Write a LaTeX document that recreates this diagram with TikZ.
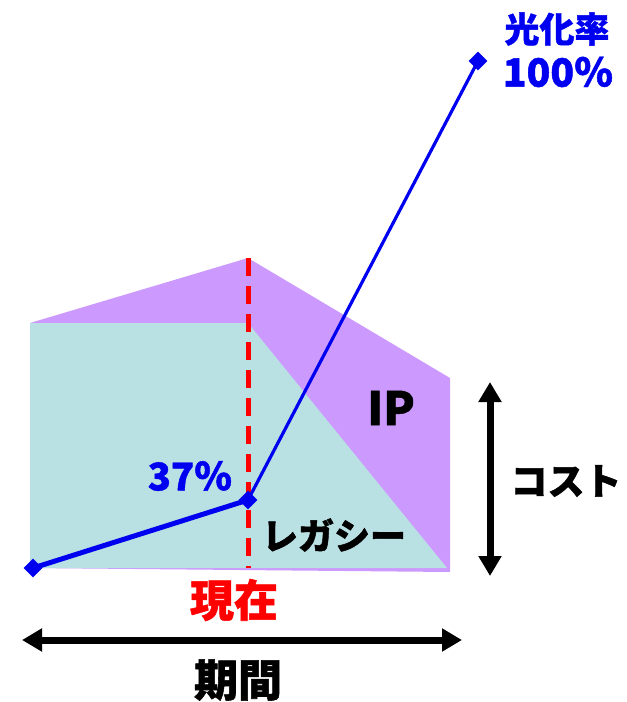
\documentclass[tikz,border=0pt]{standalone}
\usepackage{fontspec}
\newfontfamily\jp{Noto Sans CJK JP}[BoldFeatures={FakeBold=1.2}]
\usetikzlibrary{arrows.meta,shapes.geometric}
\definecolor{ipcol}{RGB}{204,153,255}
\definecolor{legcol}{RGB}{185,224,227}
\definecolor{lineblue}{RGB}{0,0,240}
\definecolor{nowred}{RGB}{255,0,0}
\tikzset{
  lbl/.style={font=\jp\bfseries, inner sep=0pt, anchor=center},
  marker/.style={diamond, fill=lineblue, draw=none, minimum size=19bp, inner sep=0pt},
  dbl/.style={line width=7bp, {Triangle[length=20bp,width=22bp]}-{Triangle[length=20bp,width=22bp]}},
}
\begin{document}
\begin{tikzpicture}[x=1bp,y=-1bp]
\useasboundingbox (0,0) rectangle (627,702);
% areas
\fill[ipcol] (30,323) -- (248,258) -- (450,378) -- (450,572) -- (30,568) -- cycle;
\fill[legcol] (30,323) -- (248,323) -- (447,568) -- (30,568) -- cycle;
% now line
\coordinate (nowtop) at (248,258);
\coordinate (nowbot) at (248,568);
\draw[nowred, line width=5bp, dash pattern=on 18bp off 10bp] (nowtop) -- (nowbot);
% markers
\node[marker] (p0) at (33,568) {};
\node[marker] (p1) at (248,500) {};
\node[marker] (p2) at (478,61) {};
\draw[lineblue, line width=5bp] (p0.center) -- (p1.center);
\draw[lineblue, line width=3.2bp] (p1.center) -- (p2.center);
% labels
\node[lbl, text=lineblue, font=\jp\bfseries\fontsize{35bp}{35bp}\selectfont] (t1) at (557,29) {光化率};
\node[lbl, text=lineblue, font=\jp\bfseries\fontsize{39bp}{39bp}\selectfont] (t2) at (558,72) {100％};
\node[lbl, text=lineblue, font=\jp\bfseries\fontsize{38bp}{38bp}\selectfont] (t3) at (190,476) {37％};
\node[lbl, font=\jp\bfseries\fontsize{46bp}{46bp}\selectfont] (ip) at (391,408) {IP};
\node[lbl, font=\jp\bfseries\fontsize{36bp}{36bp}\selectfont] (leg) at (334,535) {レガシー};
\node[lbl, font=\jp\bfseries\fontsize{37bp}{37bp}\selectfont] (cost) at (566,481) {コスト};
\node[lbl, text=nowred, font=\jp\bfseries\fontsize{44bp}{44bp}\selectfont] (now) at (234,600) {現在};
\node[lbl, font=\jp\bfseries\fontsize{44bp}{44bp}\selectfont] (period) at (238,680) {期間};
% arrows
\coordinate (vt) at (490,382);
\coordinate (vb) at (490,576);
\draw[dbl] (vt) -- (vb);
\coordinate (hl) at (22,640);
\coordinate (hr) at (462,640);
\draw[dbl] (hl) -- (hr);
\end{tikzpicture}
\end{document}
